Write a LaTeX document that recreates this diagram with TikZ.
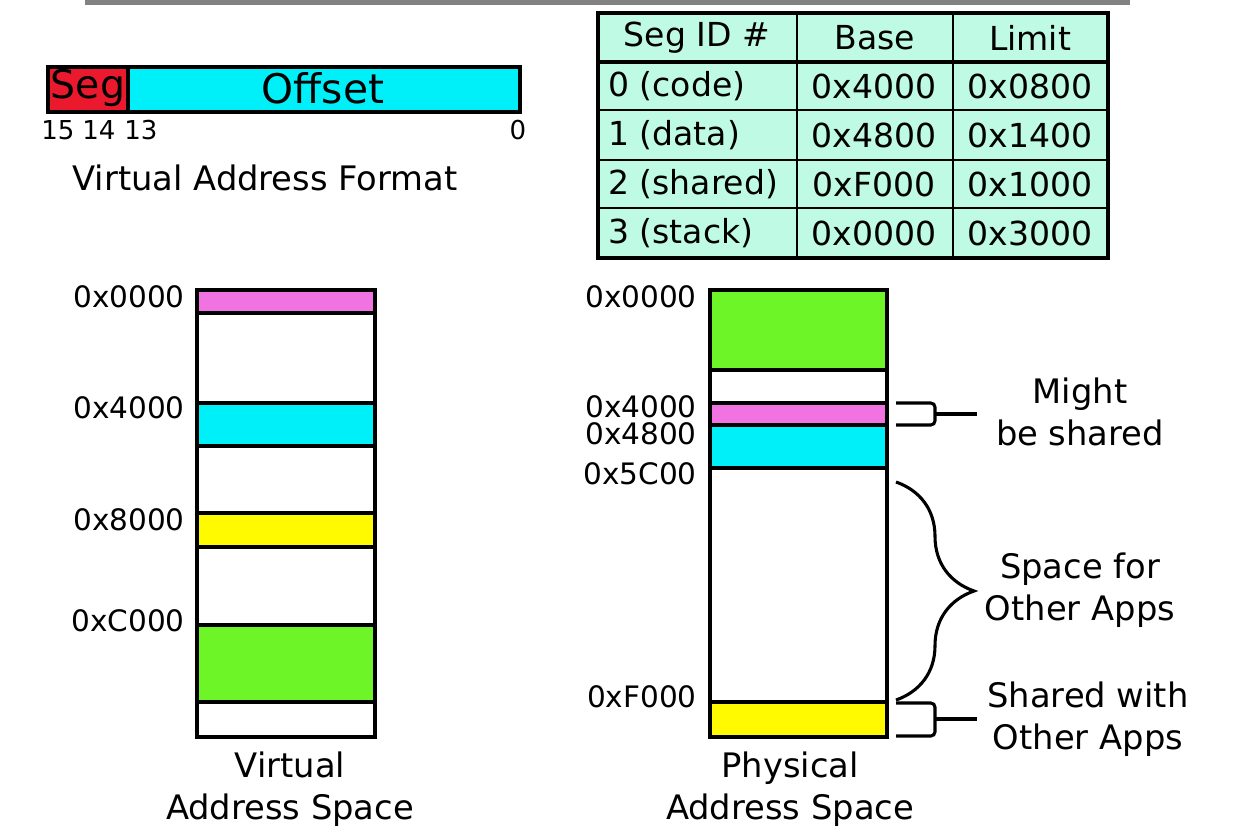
\documentclass[tikz,border=0pt]{standalone}
\usepackage{fontspec}
\setmainfont{DejaVu Sans}
\usetikzlibrary{positioning,decorations.pathreplacing}
\definecolor{segRed}{RGB}{235,25,45}
\definecolor{segCyan}{RGB}{0,240,250}
\definecolor{segPink}{RGB}{240,115,225}
\definecolor{segYellow}{RGB}{255,250,0}
\definecolor{segGreen}{RGB}{110,245,40}
\definecolor{tableMint}{RGB}{190,250,228}
\definecolor{slideGray}{RGB}{130,130,130}

\begin{document}
\begin{tikzpicture}[x=0.025cm, y=-0.025cm,
  font=\fontsize{24}{30}\selectfont,
  seg/.style={draw=black, line width=2.2pt},
  addr/.style={anchor=east, inner sep=0pt, font=\fontsize{21}{25}\selectfont},
  bit/.style={inner sep=0pt, font=\fontsize{18.5}{22}\selectfont},
  cell/.style={inner sep=0pt, font=\fontsize{23.5}{27}\selectfont},
  note/.style={align=center, inner sep=0pt},
  brk/.style={line width=2.2pt, rounded corners=3pt}]

  \useasboundingbox (0,0) rectangle (1233,834);
  \draw[slideGray, line width=4pt] (85,2) -- (1130,2);

  % virtual address format
  \draw[seg, fill=segRed]  (48,67) rectangle (128,112);
  \draw[seg, fill=segCyan] (128,67) rectangle (520,112);
  \node[inner sep=0pt, font=\fontsize{28}{32}\selectfont] (seg) at (88,88) {Seg};
  \node[inner sep=0pt, font=\fontsize{29}{32}\selectfont] (offset) at (323,88) {Offset};
  \node[bit] (b15) at (58,130) {15};
  \node[bit] (b14) at (99,130) {14};
  \node[bit] (b13) at (141,130) {13};
  \node[bit] (b0)  at (518,130) {0};
  \node[inner sep=0pt] (format) at (265,178) {Virtual Address Format};

  % segment table
  \draw[fill=tableMint, line width=2.2pt] (598,13) rectangle (1108,258);
  \foreach \yy in {110,160,208} \draw[line width=1pt] (598,\yy) -- (1108,\yy);
  \foreach \xx in {797,953} \draw[line width=1pt] (\xx,13) -- (\xx,258);
  \draw[line width=3pt] (598,62) -- (1108,62);
  \node[cell] (hid)   at (697,38) {Seg ID \#};
  \node[cell] (hbase) at (875,38) {Base};
  \node[cell] (hlim)  at (1030,38) {Limit};
  \foreach \id/\base/\lim [count=\r] in {0 (code)/0x4000/0x0800, 1 (data)/0x4800/0x1400,
      2 (shared)/0xF000/0x1000, 3 (stack)/0x0000/0x3000} {
    \node[cell, anchor=west] (id\r) at (608,37+49*\r) {\id};
    \node[cell] (base\r) at (874,37+49*\r) {\base};
    \node[cell] (lim\r)  at (1030,37+49*\r) {\lim};
  }

  % virtual address space
  \foreach \t/\b/\c in {290/313/segPink, 313/403/white, 403/446/segCyan, 446/513/white,
      513/547/segYellow, 547/625/white, 625/702/segGreen, 702/737/white}
    \draw[seg, fill=\c] (197,\t) rectangle (375,\b);
  \node[addr] (v0) at (185,297) {0x0000};
  \node[addr] (v4) at (185,408) {0x4000};
  \node[addr] (v8) at (185,520) {0x8000};
  \node[addr] (vc) at (185,621) {0xC000};
  \node[note] (vname) at (290,789) {Virtual\\Address Space};

  % physical address space
  \foreach \t/\b/\c in {290/370/segGreen, 370/403/white, 403/425/segPink, 425/468/segCyan,
      468/702/white, 702/737/segYellow}
    \draw[seg, fill=\c] (710,\t) rectangle (887,\b);
  \node[addr] (p0)  at (697,297) {0x0000};
  \node[addr] (p4)  at (697,407) {0x4000};
  \node[addr] (p48) at (697,434) {0x4800};
  \node[addr] (p5c) at (697,474) {0x5C00};
  \node[addr] (pf)  at (697,697) {0xF000};
  \node[note] (pname) at (790,789) {Physical\\Address Space};

  % notes
  \node[note] (might) at (1080,412) {Might\\be shared};
  \node[note] (space) at (1080,590) {Space for\\Other Apps};
  \node[note] (share) at (1088,719) {Shared with\\Other Apps};

  \coordinate (mightTip) at (977,414);
  \coordinate (shareTip) at (977,719);
  \draw[brk] (896,403) -- (935,403) -- (935,425) -- (896,425);
  \draw[line width=2.2pt] (935,414) -- (mightTip);
  \draw[line width=2.2pt, decorate, decoration={brace, amplitude=1.95cm}]
    (896,482) -- (896,700);
  \draw[brk] (896,703) -- (935,703) -- (935,736) -- (896,736);
  \draw[line width=2.2pt] (935,719) -- (shareTip);
\end{tikzpicture}
\end{document}
